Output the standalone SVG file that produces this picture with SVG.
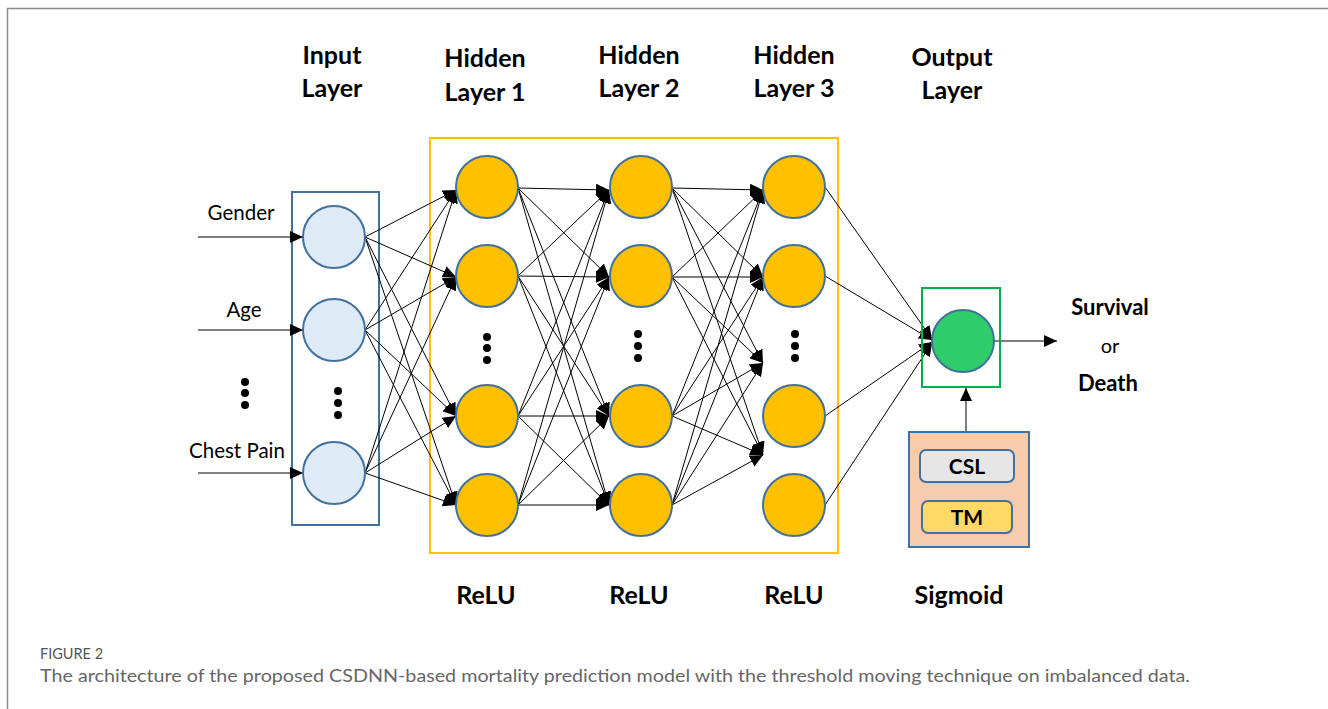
<svg xmlns="http://www.w3.org/2000/svg" width="1328" height="709" viewBox="0 0 1328 709">
<defs>
<marker id="ah" markerUnits="userSpaceOnUse" markerWidth="14" markerHeight="12" refX="13" refY="6" orient="auto">
<path d="M0,0 L13,6 L0,12 Z" fill="#000"/>
</marker>
<style>
.t{font-family:Lato,"Liberation Sans",sans-serif;fill:#000}
.b{font-weight:bold;font-size:25px}
.r{font-size:20.5px}
.in{fill:#deebf7;stroke:#41719c;stroke-width:2}
.hid{fill:#ffc000;stroke:#41719c;stroke-width:2}
.out{fill:#2ecc6a;stroke:#41719c;stroke-width:2}
.c line{stroke:#000;stroke-width:1;marker-end:url(#ah)}
.dot{fill:#000}
</style>
</defs>
<rect width="1328" height="709" fill="#fff"/>
<path d="M7.5,709 V8.5 H1328" fill="none" stroke="#8a8a8a" stroke-width="1.5"/>

<!-- layer titles -->
<g class="t b" text-anchor="middle">
<text x="332" y="64">Input</text><text x="332" y="97">Layer</text>
<text x="485" y="67">Hidden</text><text x="485" y="101">Layer 1</text>
<text x="639" y="64">Hidden</text><text x="639" y="97">Layer 2</text>
<text x="794" y="64">Hidden</text><text x="794" y="97">Layer 3</text>
<text x="952" y="66">Output</text><text x="952" y="99">Layer</text>
<text x="486" y="604">ReLU</text>
<text x="639" y="604">ReLU</text>
<text x="794" y="604">ReLU</text>
<text x="959" y="604">Sigmoid</text>
</g>

<!-- boxes -->
<rect x="430" y="138" width="408" height="415" fill="none" stroke="#ffc000" stroke-width="2"/>
<rect x="292" y="192" width="87" height="333" fill="none" stroke="#41719c" stroke-width="2"/>

<!-- connectors -->
<g id="connectors" class="c">
<line x1="198" y1="237" x2="303" y2="237"/>
<line x1="198" y1="330" x2="303" y2="330"/>
<line x1="198" y1="473" x2="303" y2="473"/>
<line x1="365" y1="237" x2="456" y2="190"/>
<line x1="365" y1="237" x2="456" y2="277"/>
<line x1="365" y1="237" x2="456" y2="416"/>
<line x1="365" y1="237" x2="456" y2="505"/>
<line x1="365" y1="330" x2="456" y2="190"/>
<line x1="365" y1="330" x2="456" y2="277"/>
<line x1="365" y1="330" x2="456" y2="416"/>
<line x1="365" y1="330" x2="456" y2="505"/>
<line x1="365" y1="473" x2="456" y2="190"/>
<line x1="365" y1="473" x2="456" y2="277"/>
<line x1="365" y1="473" x2="456" y2="416"/>
<line x1="365" y1="473" x2="456" y2="505"/>

<line x1="518" y1="188" x2="609" y2="190"/>
<line x1="518" y1="188" x2="609" y2="277"/>
<line x1="518" y1="188" x2="609" y2="416"/>
<line x1="518" y1="188" x2="609" y2="505"/>
<line x1="518" y1="276" x2="609" y2="190"/>
<line x1="518" y1="276" x2="609" y2="277"/>
<line x1="518" y1="276" x2="609" y2="416"/>
<line x1="518" y1="276" x2="609" y2="505"/>
<line x1="518" y1="416" x2="609" y2="190"/>
<line x1="518" y1="416" x2="609" y2="277"/>
<line x1="518" y1="416" x2="609" y2="416"/>
<line x1="518" y1="416" x2="609" y2="505"/>
<line x1="518" y1="505" x2="609" y2="190"/>
<line x1="518" y1="505" x2="609" y2="277"/>
<line x1="518" y1="505" x2="609" y2="416"/>
<line x1="518" y1="505" x2="609" y2="505"/>

<line x1="672" y1="188" x2="763" y2="190"/>
<line x1="672" y1="188" x2="763" y2="277"/>
<line x1="672" y1="188" x2="763" y2="363"/>
<line x1="672" y1="188" x2="763" y2="455"/>
<line x1="672" y1="277" x2="763" y2="190"/>
<line x1="672" y1="277" x2="763" y2="277"/>
<line x1="672" y1="277" x2="763" y2="363"/>
<line x1="672" y1="277" x2="763" y2="455"/>
<line x1="672" y1="416" x2="763" y2="190"/>
<line x1="672" y1="416" x2="763" y2="277"/>
<line x1="672" y1="416" x2="763" y2="363"/>
<line x1="672" y1="416" x2="763" y2="455"/>
<line x1="672" y1="505" x2="763" y2="190"/>
<line x1="672" y1="505" x2="763" y2="277"/>
<line x1="672" y1="505" x2="763" y2="363"/>
<line x1="672" y1="505" x2="763" y2="455"/>

<line x1="825" y1="187" x2="932" y2="339"/>
<line x1="825" y1="276" x2="932" y2="340"/>
<line x1="825" y1="416" x2="932" y2="342"/>
<line x1="825" y1="505" x2="932" y2="343"/>

<line x1="994" y1="341" x2="1057" y2="341"/>
<line x1="966" y1="432" x2="966" y2="388"/>
</g>

<!-- input layer nodes -->
<g id="in1"><circle class="in" cx="334" cy="237" r="31"/></g>
<g id="in2"><circle class="in" cx="334" cy="330" r="31"/></g>
<g id="in3"><circle class="in" cx="334" cy="473" r="31"/></g>
<g id="in-labels" class="t r" text-anchor="middle">
<text x="241" y="220">Gender</text>
<text x="244" y="317">Age</text>
<text x="237" y="458">Chest Pain</text>
</g>
<g class="dot">
<circle cx="245" cy="382" r="4"/><circle cx="245" cy="393" r="4"/><circle cx="245" cy="405" r="4"/>
<circle cx="338" cy="391" r="4"/><circle cx="338" cy="403" r="4"/><circle cx="338" cy="415" r="4"/>
<circle cx="487" cy="337" r="4"/><circle cx="487" cy="348" r="4"/><circle cx="487" cy="360" r="4"/>
<circle cx="638" cy="334" r="4"/><circle cx="638" cy="346" r="4"/><circle cx="638" cy="358" r="4"/>
<circle cx="795" cy="334" r="4"/><circle cx="795" cy="346" r="4"/><circle cx="795" cy="358" r="4"/>
</g>

<!-- hidden layer 1 -->
<g id="h1-1"><circle class="hid" cx="487" cy="187" r="31"/></g>
<g id="h1-2"><circle class="hid" cx="487" cy="276" r="31"/></g>
<g id="h1-3"><circle class="hid" cx="487" cy="416" r="31"/></g>
<g id="h1-4"><circle class="hid" cx="487" cy="505" r="31"/></g>
<!-- hidden layer 2 -->
<g id="h2-1"><circle class="hid" cx="641" cy="187" r="31"/></g>
<g id="h2-2"><circle class="hid" cx="641" cy="276" r="31"/></g>
<g id="h2-3"><circle class="hid" cx="641" cy="416" r="31"/></g>
<g id="h2-4"><circle class="hid" cx="641" cy="505" r="31"/></g>
<!-- hidden layer 3 -->
<g id="h3-1"><circle class="hid" cx="794" cy="187" r="31"/></g>
<g id="h3-2"><circle class="hid" cx="794" cy="276" r="31"/></g>
<g id="h3-3"><circle class="hid" cx="794" cy="416" r="31"/></g>
<g id="h3-4"><circle class="hid" cx="794" cy="505" r="31"/></g>

<!-- output -->
<g id="output">
<rect x="922" y="288" width="78" height="99" fill="none" stroke="#00b050" stroke-width="2"/>
<circle class="out" cx="963" cy="341" r="31"/>
</g>
<g id="result" class="t" text-anchor="middle">
<text x="1110" y="315" font-weight="bold" font-size="22">Survival</text>
<text x="1110" y="353" font-size="20">or</text>
<text x="1108" y="391" font-weight="bold" font-size="22">Death</text>
</g>
<g id="loss">
<rect x="909" y="432" width="120" height="115" fill="#f8cbad" stroke="#41719c" stroke-width="2"/>
<rect x="920" y="450" width="94" height="32" rx="6" fill="#e7e6e6" stroke="#41719c" stroke-width="2"/>
<rect x="922" y="501" width="90" height="32" rx="6" fill="#ffd966" stroke="#41719c" stroke-width="2"/>
<text class="t" x="967" y="474" text-anchor="middle" font-weight="bold" font-size="21">CSL</text>
<text class="t" x="967" y="525" text-anchor="middle" font-weight="bold" font-size="21">TM</text>
</g>

<!-- caption -->
<g id="caption" font-family="Lato,'Liberation Sans',sans-serif" fill="#666">
<text x="40" y="659" font-size="14.5" fill="#555">FIGURE 2</text>
<text x="40" y="682" font-size="18" textLength="1150" lengthAdjust="spacingAndGlyphs">The architecture of the proposed CSDNN-based mortality prediction model with the threshold moving technique on imbalanced data.</text>
</g>
</svg>
